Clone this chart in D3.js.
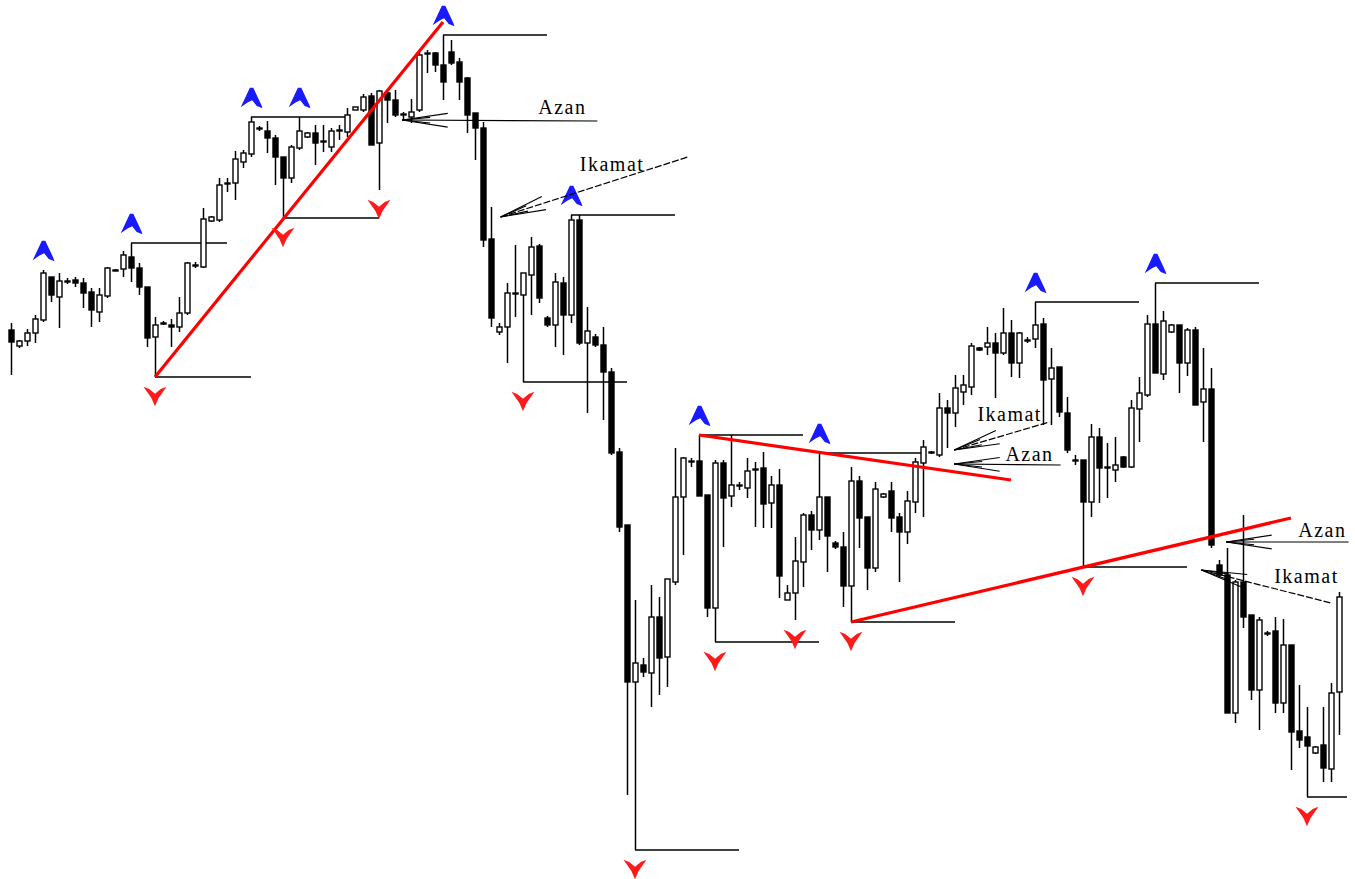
<!DOCTYPE html>
<html><head><meta charset="utf-8">
<script src="https://cdn.jsdelivr.net/npm/d3@7"></script>
<style>body{margin:0;background:#fff}svg{display:block}</style>
</head><body><svg id="c" width="1355" height="879"></svg>
<script>
// OHLC prices (arbitrary price units), one per bar
const opens=[550,534,539,547,560,603,583,599,600,597,588,568,584,610,611,623,612,593,543,556,555,553,567,614,613,659,660,697,697,718,726,751,749,742,723,702,732,743,747,739,733,750,748,770,770,784,737,787,780,766,763,770,827,827,815,828,818,802,767,752,641,548,553,587,585,605,634,562,555,597,565,660,537,543,535,508,428,355,198,215,207,263,223,298,383,419,419,385,272,417,384,395,392,411,412,377,395,280,287,318,365,350,383,337,333,294,399,363,312,383,389,363,348,378,417,428,425,472,467,488,493,532,533,537,527,547,517,540,541,556,501,513,467,420,420,378,443,413,410,423,413,471,485,556,506,548,555,517,550,478,491,315,305,167,298,265,190,247,249,177,235,149,143,127,135,111,188];
const highs=[557,540,551,565,610,603,607,602,603,602,592,592,613,611,629,637,617,593,563,559,561,583,618,618,672,664,702,702,729,730,763,754,759,745,723,735,763,748,755,755,752,755,772,773,786,787,790,790,790,768,781,828,830,828,845,840,822,803,767,758,673,557,597,635,607,643,636,564,607,603,665,665,573,546,553,512,432,355,280,222,295,283,301,432,423,422,445,385,420,420,445,398,422,418,428,404,411,295,343,367,369,427,383,339,348,413,404,363,398,387,398,367,389,422,440,429,487,480,505,505,537,533,553,547,572,560,548,543,578,562,532,513,483,425,420,456,452,437,443,424,480,503,565,597,569,556,555,552,553,532,512,320,332,300,365,265,263,249,263,261,235,195,173,134,173,197,288];
const lows=[505,532,534,537,558,578,552,596,593,572,553,558,582,609,603,598,585,533,503,555,533,548,565,612,612,658,658,688,680,712,723,749,727,695,662,697,730,742,715,728,728,740,743,770,768,735,690,757,763,760,757,768,807,808,780,815,780,747,720,633,553,545,517,563,498,565,577,553,533,525,557,535,467,533,460,425,348,85,30,203,173,185,193,295,325,413,384,263,238,333,373,390,382,353,352,352,282,280,260,293,330,340,308,331,273,258,332,290,308,382,348,298,336,367,363,426,423,432,453,475,485,529,525,482,525,503,502,537,532,455,455,463,427,415,313,363,377,382,398,412,412,438,483,507,500,547,487,504,475,438,332,302,167,157,252,180,150,244,167,167,110,132,83,126,98,98,145];
const closes=[538,539,547,561,607,585,599,598,597,587,570,585,612,609,625,612,593,542,555,557,553,567,617,615,661,663,695,696,721,727,758,752,742,723,702,733,749,747,737,738,749,749,765,773,783,735,789,780,765,765,768,825,826,815,798,817,798,765,752,640,562,553,587,586,607,633,582,555,598,565,660,537,549,535,508,427,353,198,217,208,263,222,301,383,422,418,384,272,417,382,395,394,409,410,376,395,304,287,319,365,350,383,344,333,294,399,362,312,391,386,362,348,379,418,433,427,472,467,492,495,534,530,537,527,547,517,547,539,555,500,512,468,430,419,378,443,412,412,415,413,472,487,556,507,559,555,517,550,475,491,335,305,167,298,263,190,260,246,177,235,148,140,134,133,112,187,283];

// Fractal markers (bar index), horizontal level lines [bar index, bars long]
const upFractals=[4,15,30,36,54,70,86,101,128,143];
const downFractals=[18,34,46,64,78,88,98,105,134,162];
const resistLines=[[15,12],[30,12],[54,13],[70,13],[86,13],[101,13],[128,13],[143,13]];
const supportLines=[[18,12],[34,12],[64,13],[78,13],[88,13],[105,13],[134,13],[162,5]];

// Red trend lines: [index1, price1, index2, price2]
const trendLines=[[18,503,54,858],[86,445,125,400],[105,258,160,362]];

// Text annotations: label, arrow tip [index, price], tail [index, price], text [index, price], dashed
const noteLabels=["Azan","Ikamat","Ikamat","Azan","Azan","Ikamat"];
const noteTips=[[48.9,760],[61.2,663],[117.9,430],[117.9,416],[151.9,338],[148.8,310]];
const noteTails=[[73.3,759],[84.6,723],[129.8,458],[131.2,415],[167.2,338],[165,277]];
const noteTexts=[[65.9,766],[71.1,709],[120.8,459],[124.3,419],[160.9,343],[157.9,297]];
const noteDashed=[false,true,true,false,false,true];

const svg=d3.select("#c");
const x=d3.scaleLinear().domain([0,166]).range([11,1339]);
const y=d3.scaleLinear().domain([0,880]).range([880,0]);
const bw=5;
const bars=opens.map((o,i)=>({i,o,h:highs[i],l:lows[i],c:closes[i]}));

// level lines
const lv=svg.append("g").attr("stroke","#000").attr("stroke-width",1.4);
resistLines.forEach(([i,n])=>{lv.append("line").attr("x1",x(i)).attr("x2",x(i+n)).attr("y1",y(highs[i])).attr("y2",y(highs[i]));});
supportLines.forEach(([i,n])=>{lv.append("line").attr("x1",x(i)).attr("x2",x(i+n)).attr("y1",y(lows[i])).attr("y2",y(lows[i]));});

// candles
const g=svg.append("g");
g.selectAll("line.w").data(bars).join("line")
 .attr("x1",d=>Math.round(x(d.i))+0.5).attr("x2",d=>Math.round(x(d.i))+0.5)
 .attr("y1",d=>y(d.h)).attr("y2",d=>y(d.l)).attr("stroke","#000").attr("stroke-width",1.5);
g.selectAll("rect").data(bars).join("rect")
 .attr("x",d=>Math.round(x(d.i))-bw/2+0.5).attr("width",bw)
 .attr("y",d=>y(Math.max(d.o,d.c))).attr("height",d=>Math.max(1,Math.abs(y(d.o)-y(d.c))))
 .attr("fill",d=>d.c>=d.o?"#fff":"#000").attr("stroke","#000").attr("stroke-width",1.4);

// trend lines
svg.append("g").selectAll("line").data(trendLines).join("line")
 .attr("x1",d=>x(d[0])).attr("y1",d=>y(d[1])).attr("x2",d=>x(d[2])).attr("y2",d=>y(d[3]))
 .attr("stroke","#ff0000").attr("stroke-width",3.2);

// fractal markers
svg.append("g").selectAll("path").data(upFractals).join("path")
 .attr("transform",d=>`translate(${x(d)},${y(highs[d])-19}) scale(1.15)`)
 .attr("d","M-1,-9 L2,-9 L9,6 L10,9 L5,7 L1,2 L-3,4 L-9,8 L-7,4 Z")
 .attr("fill","#1a1aff");
svg.append("g").selectAll("path").data(downFractals).join("path")
 .attr("transform",d=>`translate(${x(d)},${y(lows[d])+19}) scale(1.15)`)
 .attr("d","M-10,-8 L-5,-6 L0,-2 L5,-6 L10,-8 L3,2 L0,9 L-3,2 Z")
 .attr("fill","#ff1a1a");

// annotations
const an=svg.append("g");
noteLabels.forEach((lab,k)=>{
  const tx=x(noteTips[k][0]), ty=y(noteTips[k][1]);
  const ex=x(noteTails[k][0]), ey=y(noteTails[k][1]);
  const ang=Math.atan2(ey-ty,ex-tx);
  an.append("line").attr("x1",tx).attr("y1",ty).attr("x2",ex).attr("y2",ey)
    .attr("stroke","#000").attr("stroke-width",1.2).attr("stroke-dasharray",noteDashed[k]?"7,2":null);
  [[46,0.15],[46,-0.15],[28,0.1],[28,-0.1]].forEach(([L,a])=>{
    an.append("line").attr("x1",tx).attr("y1",ty)
      .attr("x2",tx+L*Math.cos(ang+a)).attr("y2",ty+L*Math.sin(ang+a))
      .attr("stroke","#000").attr("stroke-width",1.1);
  });
  an.append("text").attr("x",x(noteTexts[k][0])).attr("y",y(noteTexts[k][1]))
    .attr("font-family","Liberation Serif, serif").attr("font-size",20).attr("letter-spacing",1.5)
    .attr("fill","#000").text(lab);
});
</script></body></html>
